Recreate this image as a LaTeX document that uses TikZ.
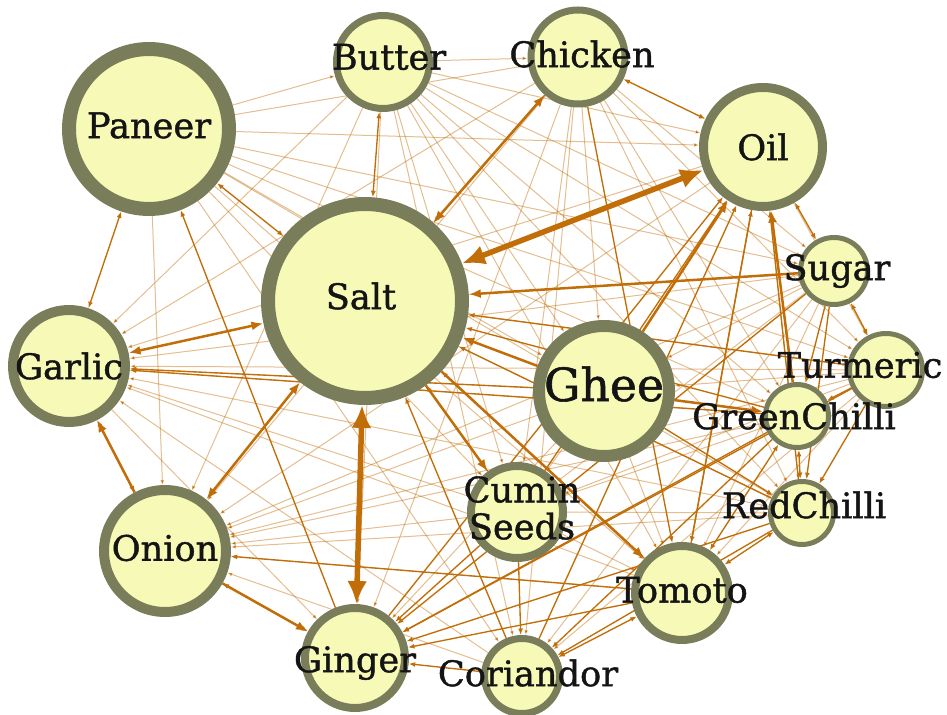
\documentclass[tikz,border=0pt]{standalone}
\usepackage{fontspec}
\setmainfont{DejaVu Serif}
\newfontfamily\lblfont[FakeBold=1.2]{DejaVu Serif}
\usepackage{tikz}
\usetikzlibrary{arrows.meta,backgrounds}
\definecolor{ringcol}{RGB}{122,125,90}
\definecolor{fillcol}{RGB}{246,250,182}
\definecolor{linkcol}{RGB}{194,110,8}

\begin{document}
\begin{tikzpicture}
[x=0.02cm, y=-0.02cm]
\tikzset{
	ingr/.style 2 args = {circle, draw = ringcol, fill = fillcol, inner sep = 0, minimum size = #1cm, line width = #2cm},
	lbl/.style = {font = \lblfont\fontsize{20}{21}\selectfont, text = black!92, inner sep = 0, align = center},
	link0/.style = {draw = linkcol, draw opacity = 0.45, line width = 0.02cm, >={Latex[length=0.1cm, width=0.08cm]}},
	link1/.style = {draw = linkcol, line width = 0.027cm, >={Latex[length=0.13cm, width=0.1cm]}},
	link2/.style = {draw = linkcol, line width = 0.05cm, >={Latex[length=0.24cm, width=0.18cm]}},
	link3/.style = {draw = linkcol, line width = 0.11cm, >={Latex[length=0.46cm, width=0.4cm]}}
}
\useasboundingbox (0,0) rectangle (947,715);

\node (paneer) [ingr={3.20}{0.28}, label={[lbl, yshift=0.07cm]center:Paneer}] at (149,129) {};
\node (butter) [ingr={1.86}{0.14}, label={[lbl, xshift=0.12cm, yshift=0.1cm]center:Butter}] at (383,62) {};
\node (chicken) [ingr={1.88}{0.14}, label={[lbl, xshift=0.08cm, yshift=0.06cm]center:Chicken}] at (578,57) {};
\node (oil) [ingr={2.38}{0.18}, label={[lbl]center:Oil}] at (763,147) {};
\node (salt) [ingr={3.88}{0.28}, label={[lbl, xshift=-0.08cm, yshift=0.1cm]center:Salt}] at (365,301) {};
\node (sugar) [ingr={1.34}{0.10}, label={[lbl, xshift=0.06cm]center:Sugar}] at (834,271) {};
\node (garlic) [ingr={2.24}{0.20}, label={[lbl]center:Garlic}] at (69,366) {};
\node (turmeric) [ingr={1.46}{0.10}, label={[lbl, xshift=-0.52cm, yshift=0.1cm]center:Turmeric}] at (886,370) {};
\node (ghee) [ingr={2.60}{0.24}, label={[lbl, font=\lblfont\fontsize{26}{28}\selectfont, yshift=0.14cm]center:Ghee}] at (604,391) {};
\node (gchilli) [ingr={1.26}{0.10}, label={[lbl, xshift=-0.06cm]center:GreenChilli}] at (797,416) {};
\node (cumin) [ingr={1.84}{0.16}, label={[lbl, xshift=0.1cm, yshift=0.08cm]center:Cumin\\Seeds}] at (517,512) {};
\node (rchilli) [ingr={1.26}{0.10}, label={[lbl, xshift=0.04cm, yshift=0.16cm]center:RedChilli}] at (802,513) {};
\node (onion) [ingr={2.44}{0.20}, label={[lbl, yshift=0.06cm]center:Onion}] at (165,551) {};
\node (tomoto) [ingr={1.88}{0.16}, label={[lbl, yshift=0.06cm]center:Tomoto}] at (682,593) {};
\node (ginger) [ingr={2.00}{0.16}, label={[lbl, yshift=-0.1cm]center:Ginger}] at (355,658) {};
\node (coriandor) [ingr={1.50}{0.14}, label={[lbl, xshift=0.12cm, yshift=0.06cm]center:Coriandor}] at (522,676) {};

\begin{scope}[on background layer]
\foreach \a/\b in {paneer/butter, paneer/chicken, paneer/oil, paneer/sugar, paneer/ghee, paneer/gchilli, paneer/turmeric,
	paneer/cumin, paneer/tomoto, paneer/rchilli, paneer/onion, paneer/coriandor,
	butter/chicken, butter/oil, butter/garlic, butter/ghee, butter/sugar, butter/turmeric, butter/tomoto, butter/cumin,
	butter/ginger, butter/rchilli, butter/coriandor, butter/onion, butter/gchilli,
	chicken/ghee, chicken/gchilli, chicken/sugar, chicken/turmeric, chicken/ginger, chicken/coriandor, chicken/rchilli,
	chicken/garlic, chicken/onion, chicken/cumin,
	oil/garlic, ghee/garlic, gchilli/garlic, turmeric/garlic, cumin/garlic, tomoto/garlic, rchilli/garlic, sugar/garlic,
	coriandor/garlic, ghee/onion, gchilli/onion, turmeric/onion, cumin/onion, tomoto/onion, rchilli/onion, sugar/onion,
	coriandor/onion, oil/onion, garlic/ginger,
	oil/turmeric, oil/rchilli, sugar/ghee, sugar/tomoto, sugar/cumin, sugar/coriandor,
	turmeric/ghee, turmeric/tomoto, turmeric/cumin, turmeric/coriandor, ghee/cumin, ghee/tomoto, ghee/ginger,
	cumin/gchilli, cumin/rchilli, cumin/tomoto, salt/turmeric, salt/rchilli, salt/sugar}
	\draw [link0, ->] (\a) -- (\b);

\foreach \a/\b in {butter/salt, paneer/salt, paneer/garlic, garlic/onion, onion/ginger, chicken/oil, oil/sugar,
	sugar/turmeric, gchilli/rchilli, tomoto/rchilli, tomoto/gchilli, coriandor/tomoto}
	\draw [link1, <->] (\a) -- (\b);

\foreach \a/\b in {ginger/paneer, coriandor/salt, cumin/salt, tomoto/ginger, gchilli/ginger, rchilli/ginger, cumin/ginger,
	sugar/ginger, turmeric/ginger, coriandor/ginger, oil/tomoto, cumin/coriandor, gchilli/coriandor, rchilli/coriandor,
	sugar/gchilli, turmeric/gchilli, turmeric/rchilli, sugar/rchilli, chicken/tomoto, cumin/oil, tomoto/oil,
	coriandor/oil, ginger/oil, rchilli/oil, ghee/rchilli, turmeric/salt, gchilli/salt, rchilli/salt, tomoto/salt,
	chicken/salt, gchilli/garlic, ghee/garlic, tomoto/onion}
	\draw [link1, ->] (\a) -- (\b);

\foreach \a/\b in {salt/onion, garlic/salt, chicken/salt}
	\draw [link2, <->] (\a) -- (\b);

\foreach \a/\b in {ghee/gchilli, gchilli/oil, ghee/salt, salt/tomoto, sugar/salt, onion/ginger, onion/garlic, ghee/oil,
	salt/cumin}
	\draw [link2, ->] (\a) -- (\b);

\foreach \a/\b in {salt/oil, salt/ginger}
	\draw [link3, <->] (\a) -- (\b);
\end{scope}

\end{tikzpicture}
\end{document}
